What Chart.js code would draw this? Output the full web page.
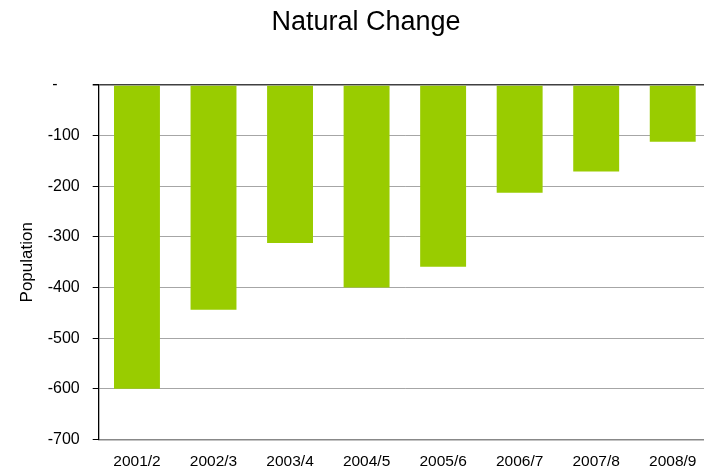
<!DOCTYPE html>
<html>
<head>
<meta charset="utf-8">
<script src="https://cdn.jsdelivr.net/npm/chart.js@4"></script>
<style>
  html, body { margin: 0; padding: 0; background: #fff; overflow: hidden; }
  #wrap { width: 732px; height: 471px; }
</style>
</head>
<body>
<div id="wrap"><canvas id="natChart" width="732" height="471"></canvas></div>
<script>
// values
var years = ['2001/2', '2002/3', '2003/4', '2004/5', '2005/6', '2006/7', '2007/8', '2008/9'];
var naturalChange = [-600, -444, -312, -400, -359, -213, -171, -112];
var yMin = -700;
var yMax = 0;
var yStep = 100;

var font = 'Liberation Sans, Arial, sans-serif';

var ctx = document.getElementById('natChart').getContext('2d');
var natChart = new Chart(ctx, {
  type: 'bar',
  data: {
    labels: years,
    datasets: [
      {
        label: 'Natural Change',
        data: naturalChange,
        backgroundColor: '#99cc00',
        borderWidth: 0,
        barPercentage: 0.6,
        categoryPercentage: 1.0
      }
    ]
  },
  options: {
    responsive: false,
    animation: false,
    layout: { padding: { left: 21, right: 21, top: 0, bottom: 0 } },
    plugins: {
      legend: { display: false },
      tooltip: { enabled: false },
      title: {
        display: true,
        text: 'Natural Change',
        color: '#000',
        font: { family: font, size: 27, weight: 'normal' },
        padding: { top: 6, bottom: 46.6 }
      }
    },
    scales: {
      x: {
        grid: { display: false, drawTicks: false },
        border: { display: true, color: '#888', width: 1.5 },
        ticks: {
          color: '#000',
          padding: 13,
          maxRotation: 0,
          font: { family: font, size: 15.5 }
        },
        afterFit: function (scale) { scale.height = 31.5; }
      },
      y: {
        min: yMin,
        max: yMax,
        grid: {
          color: function (c) { return c.tick && c.tick.value === 0 ? '#404040' : '#a6a6a6'; },
          lineWidth: function (c) { return c.tick && c.tick.value === 0 ? 1.5 : 1; },
          tickColor: '#000',
          tickLength: 6
        },
        border: { display: true, color: '#000', width: 1.3 },
        ticks: {
          stepSize: yStep,
          color: '#000',
          padding: 13,
          font: { family: font, size: 16 },
          callback: function (value) { return value === 0 ? '-     ' : String(value); }
        },
        title: {
          display: true,
          text: 'Population',
          color: '#000',
          font: { family: font, size: 17 },
          padding: { top: -4, bottom: 0 }
        },
        afterFit: function (scale) { scale.width = 77.7; }
      }
    }
  }
});
</script>
</body>
</html>
